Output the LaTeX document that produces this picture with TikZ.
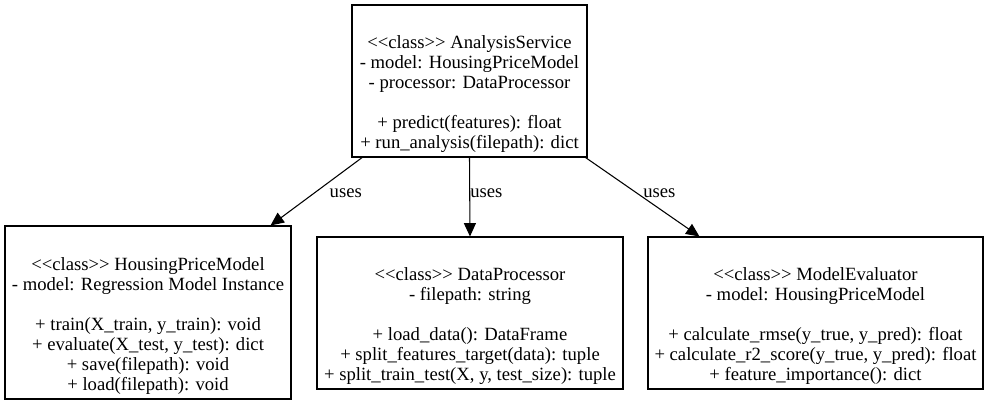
\documentclass[tikz,border=0pt]{standalone}
\usepackage{fontspec}
\setmainfont{Liberation Serif}
\usetikzlibrary{arrows.meta, positioning}

\begin{document}
\begin{tikzpicture}[
    x=0.75pt, y=-0.75pt,
    every node/.style={align=center, font=\fontsize{14pt}{15pt}\selectfont},
    classbox/.style={draw, line width=0.8pt, inner sep=0pt},
    arrow/.style={-{Triangle[length=10pt, width=9pt]}, line width=0.8pt},
    lbl/.style={anchor=west, inner sep=0pt}
]
\useasboundingbox (0,0) rectangle (988,405);

% Nodes
\node[classbox, minimum width=176.25pt, minimum height=114pt] (service) at (469.5,81)
  {\strut\\[4pt] <{}<class>{}> AnalysisService\\ - model: HousingPriceModel\\ - processor: DataProcessor\\[15pt]
   + predict(features): float\\ + run\_analysis(filepath): dict};
\node[classbox, minimum width=214.5pt, minimum height=129.75pt] (model) at (148,312.5)
  {\strut\\[4pt] <{}<class>{}> HousingPriceModel\\ - model: Regression Model Instance\\[15pt]
   + train(X\_train, y\_train): void\\ + evaluate(X\_test, y\_test): dict\\
   + save(filepath): void\\ + load(filepath): void};
\node[classbox, minimum width=229.5pt, minimum height=114pt] (processor) at (470,313)
  {\strut\\[4pt] <{}<class>{}> DataProcessor\\ - filepath: string\\[15pt]
   + load\_data(): DataFrame\\ + split\_features\_target(data): tuple\\
   + split\_train\_test(X, y, test\_size): tuple};
\node[classbox, minimum width=251.25pt, minimum height=114pt] (evaluator) at (815.5,313)
  {\strut\\[4pt] <{}<class>{}> ModelEvaluator\\ - model: HousingPriceModel\\[15pt]
   + calculate\_rmse(y\_true, y\_pred): float\\ + calculate\_r2\_score(y\_true, y\_pred): float\\
   + feature\_importance(): dict};

% Arrows
\draw[arrow] ([xshift=8pt]service.south west) -- node[lbl, pos=0.52, xshift=11pt] {uses} ([xshift=-15.75pt]model.north east);
\draw[arrow] (service.south) -- node[lbl, pos=0.45] {uses} (processor.north);
\draw[arrow] ([xshift=-1.5pt]service.south east) -- node[lbl, pos=0.45, xshift=4.5pt] {uses} ([xshift=39pt]evaluator.north west);

\end{tikzpicture}
\end{document}
